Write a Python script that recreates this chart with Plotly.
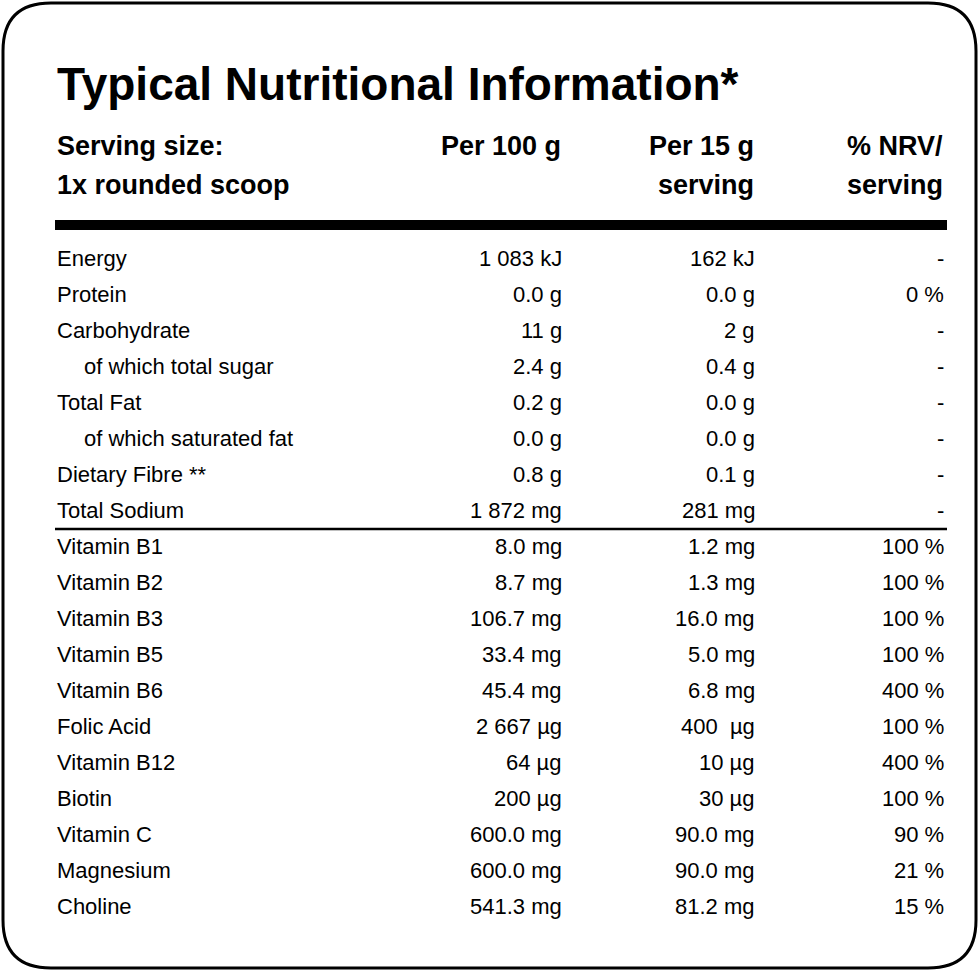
import plotly.graph_objects as go

title = "Typical Nutritional Information*"
header_lines = [
    ["Serving size:", "1x rounded scoop"],
    ["Per 100 g", ""],
    ["Per 15 g", "serving"],
    ["% NRV/", "serving"],
]

nutrients = ["Energy", "Protein", "Carbohydrate", "of which total sugar", "Total Fat",
             "of which saturated fat", "Dietary Fibre **", "Total Sodium",
             "Vitamin B1", "Vitamin B2", "Vitamin B3", "Vitamin B5", "Vitamin B6",
             "Folic Acid", "Vitamin B12", "Biotin", "Vitamin C", "Magnesium", "Choline"]
indented = [False, False, False, True, False, True, False, False,
            False, False, False, False, False, False, False, False, False, False, False]
per_100g = ["1 083 kJ", "0.0 g", "11 g", "2.4 g", "0.2 g", "0.0 g", "0.8 g", "1 872 mg",
            "8.0 mg", "8.7 mg", "106.7 mg", "33.4 mg", "45.4 mg", "2 667 µg", "64 µg",
            "200 µg", "600.0 mg", "600.0 mg", "541.3 mg"]
per_15g = ["162 kJ", "0.0 g", "2 g", "0.4 g", "0.0 g", "0.0 g", "0.1 g", "281 mg",
           "1.2 mg", "1.3 mg", "16.0 mg", "5.0 mg", "6.8 mg", "400\u00a0 µg", "10 µg",
           "30 µg", "90.0 mg", "90.0 mg", "81.2 mg"]
nrv = ["-", "0 %", "-", "-", "-", "-", "-", "-",
       "100 %", "100 %", "100 %", "100 %", "400 %", "100 %", "400 %", "100 %",
       "90 %", "21 %", "15 %"]
divider_after = "Total Sodium"

W, H = 979, 971
FONT = "Liberation Sans, Arial, sans-serif"

left_x = 55
indent_x = 82
col_right = [563, 756, 945]
row_y0 = 258
row_step = 36

fig = go.Figure()
ann = []

ann.append(dict(x=left_x, y=84, text="<b>" + title + "</b>", xanchor="left", yanchor="middle",
                font=dict(family=FONT, size=46, color="black"), showarrow=False))

hx = [(left_x, "left")] + [(c, "right") for c in col_right]
for (x, anc), lines in zip(hx, header_lines):
    for j, t in enumerate(lines):
        if t:
            ann.append(dict(x=x, y=146 + 39 * j, text="<b>" + t + "</b>", xanchor=anc, yanchor="middle",
                            font=dict(family=FONT, size=27, color="black"), showarrow=False))

for i, name in enumerate(nutrients):
    y = row_y0 + i * row_step
    ann.append(dict(x=indent_x if indented[i] else left_x, y=y, text=name, xanchor="left", yanchor="middle",
                    font=dict(family=FONT, size=22, color="black"), showarrow=False))
    for x, vals in zip(col_right, [per_100g, per_15g, nrv]):
        ann.append(dict(x=x + 1, y=y, text=vals[i], xanchor="right", yanchor="middle",
                        font=dict(family=FONT, size=22, color="black"), showarrow=False))

shapes = []
r = 48
x0, y0, x1, y1 = 3, 3, 976, 968
path = (f"M {x0+r},{y0} L {x1-r},{y0} Q {x1},{y0} {x1},{y0+r} L {x1},{y1-r} Q {x1},{y1} {x1-r},{y1} "
        f"L {x0+r},{y1} Q {x0},{y1} {x0},{y1-r} L {x0},{y0+r} Q {x0},{y0} {x0+r},{y0} Z")
shapes.append(dict(type="path", path=path, line=dict(color="black", width=3), fillcolor="white", layer="below"))
shapes.append(dict(type="rect", x0=55, x1=947, y0=220, y1=230, fillcolor="black", line=dict(width=0)))
k = nutrients.index(divider_after)
ydiv = row_y0 + (k + 0.5) * row_step + 1
shapes.append(dict(type="line", x0=55, x1=947, y0=ydiv, y1=ydiv, line=dict(color="black", width=2.5)))

fig.update_layout(
    width=W, height=H, margin=dict(l=0, r=0, t=0, b=0),
    paper_bgcolor="white", plot_bgcolor="white",
    xaxis=dict(range=[0, W], visible=False, fixedrange=True),
    yaxis=dict(range=[H, 0], visible=False, fixedrange=True),
    annotations=ann, shapes=shapes, showlegend=False,
)
fig.write_html("out.html", config={"displayModeBar": False},
               post_script="document.body.style.margin='0px';document.body.style.overflow='hidden';")
